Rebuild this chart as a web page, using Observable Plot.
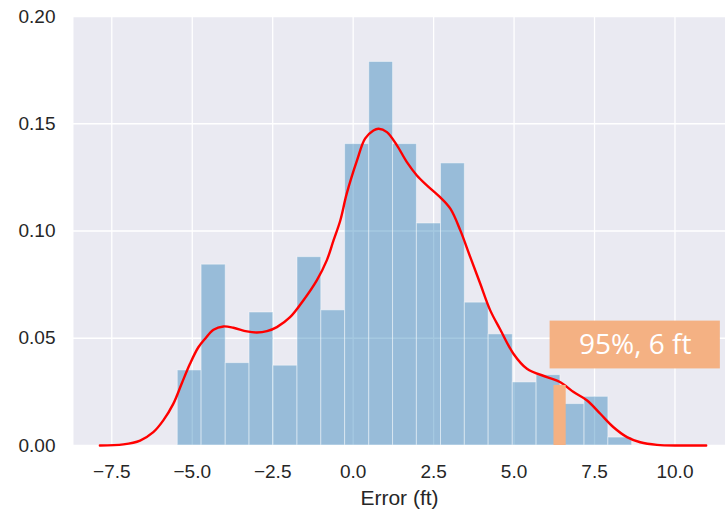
<!DOCTYPE html>
<html>
<head>
<meta charset="utf-8">
<script src="https://cdn.jsdelivr.net/npm/d3@7"></script>
<script src="https://cdn.jsdelivr.net/npm/@observablehq/plot@0.6"></script>
<style>
  html, body { margin: 0; padding: 0; background: #ffffff; }
  #chart { width: 725px; height: 513px; }
</style>
</head>
<body>
<div id="chart"></div>
<script>
// Histogram bin edges (ft) and densities
const binEdges = [-5.45, -4.71, -3.96, -3.22, -2.48, -1.73, -0.99, -0.25, 0.50, 1.24,
                  1.98, 2.73, 3.47, 4.21, 4.96, 5.70, 6.44, 7.19, 7.93, 8.67];
const density = [0.0350, 0.0843, 0.0384, 0.0620, 0.0372, 0.0878, 0.0630, 0.1405, 0.1788, 0.1405,
                 0.1035, 0.1315, 0.0666, 0.0518, 0.0294, 0.0328, 0.0193, 0.0227, 0.0037];

// KDE curve
const kdeX = [-7.87, -7.14, -6.62, -6.21, -5.90, -5.59, -5.33, -5.07, -4.81, -4.60,
              -4.34, -4.03, -3.72, -3.30, -2.99, -2.68, -2.37, -1.96, -1.55, -1.13,
              -0.82, -0.61, -0.40, -0.20, 0.12, 0.37, 0.63, 0.79, 1.05, 1.36,
              1.67, 1.98, 2.29, 2.70, 3.02, 3.33, 3.64, 3.95, 4.26, 4.57,
              4.98, 5.40, 6.02, 6.44, 6.85, 7.27, 7.68, 8.09, 8.51, 8.92,
              9.44, 10.17, 10.97];
const kdeY = [0.0000, 0.0005, 0.0023, 0.0062, 0.0117, 0.0194, 0.0288, 0.0381, 0.0458, 0.0498,
              0.0540, 0.0555, 0.0549, 0.0532, 0.0527, 0.0533, 0.0552, 0.0598, 0.0676, 0.0770,
              0.0863, 0.0956, 0.1049, 0.1174, 0.1329, 0.1431, 0.1469, 0.1477, 0.1461, 0.1399,
              0.1321, 0.1259, 0.1213, 0.1158, 0.1104, 0.1003, 0.0878, 0.0754, 0.0630, 0.0541,
              0.0428, 0.0358, 0.0319, 0.0295, 0.0249, 0.0210, 0.0148, 0.0085, 0.0039, 0.0015,
              0.0003, 0.0000, 0.0000];

// Highlighted 95% bar and callout
const highlightX = [6.24, 6.62];
const highlightY = [0.028];
const calloutText = ["95%, 6 ft"];
const calloutX = [6.12, 11.41];
const calloutY = [0.0357, 0.058];

// Axis ticks
const xTicks = [-7.5, -5.0, -2.5, 0.0, 2.5, 5.0, 7.5, 10.0];
const yTicks = [0.00, 0.05, 0.10, 0.15, 0.20];
const xLabel = "Error (ft)";

const bars = density.map((d, i) => ({x1: binEdges[i], x2: binEdges[i + 1], y: d}));
const kde = kdeX.map((x, i) => ({x, y: kdeY[i]}));
const hl = [{x1: highlightX[0], x2: highlightX[1], y: highlightY[0]}];
const callout = [{x1: calloutX[0], x2: calloutX[1], y1: calloutY[0], y2: calloutY[1], text: calloutText[0]}];

const textColor = "#262626";

const chart = Plot.plot({
  width: 725,
  height: 513,
  marginLeft: 73,
  marginRight: 0,
  marginTop: 16,
  marginBottom: 68,
  style: {fontFamily: "'Liberation Sans', Arial, sans-serif", fontSize: "19px", color: textColor, background: "#ffffff"},
  x: {domain: [-8.69, 11.57], label: null},
  y: {domain: [0, 0.2], label: null},
  marks: [
    Plot.frame({fill: "#EAEAF2", stroke: "none"}),
    Plot.gridX(xTicks, {stroke: "#ffffff", strokeOpacity: 1, strokeWidth: 1.3}),
    Plot.gridY(yTicks, {stroke: "#ffffff", strokeOpacity: 1, strokeWidth: 1.3}),
    Plot.rect(bars, {x1: "x1", x2: "x2", y1: 0, y2: "y", fill: "#1f77b4", fillOpacity: 0.4,
                     stroke: "#ffffff", strokeOpacity: 0.45, strokeWidth: 1}),
    Plot.line(kde, {x: "x", y: "y", stroke: "#ff0000", strokeWidth: 2.4, curve: "catmull-rom"}),
    Plot.rect(hl, {x1: "x1", x2: "x2", y1: 0, y2: "y", fill: "#F4B183"}),
    Plot.rect(callout, {x1: "x1", x2: "x2", y1: "y1", y2: "y2", fill: "#F4B183"}),
    Plot.text(callout, {x: d => (d.x1 + d.x2) / 2, y: d => (d.y1 + d.y2) / 2, text: "text",
                        fill: "#ffffff", fontSize: 28, fontFamily: "'Open Sans', sans-serif"}),
    Plot.axisX(xTicks, {tickSize: 0, tickPadding: 19, tickFormat: d3.format(".1f"), label: null, fontSize: 19}),
    Plot.axisY(yTicks, {tickSize: 0, tickPadding: 18, tickFormat: d3.format(".2f"), label: null, fontSize: 19}),
    Plot.text([xLabel], {frameAnchor: "bottom", lineAnchor: "middle", dy: 53, fontSize: 21, fill: textColor})
  ]
});
document.getElementById("chart").appendChild(chart);
</script>
</body>
</html>
